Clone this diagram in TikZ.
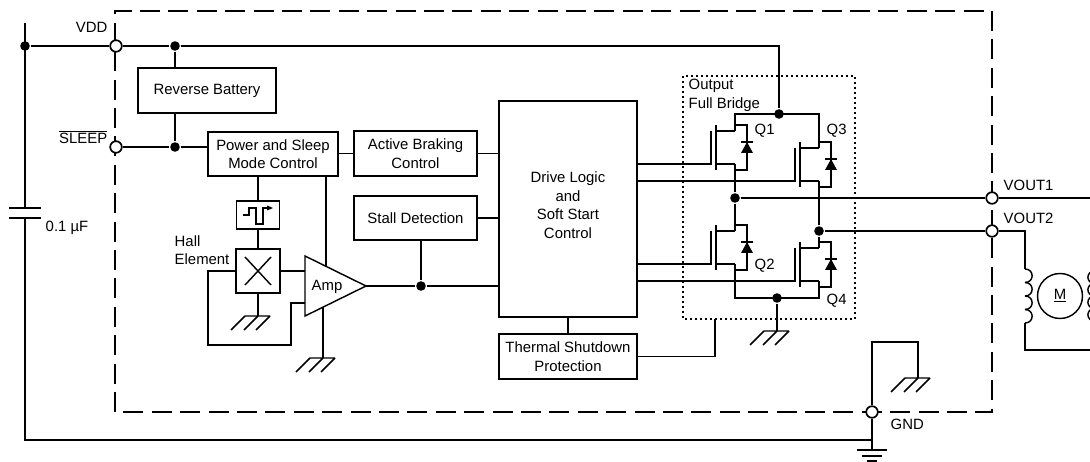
\documentclass[tikz,border=0pt]{standalone}
\usepackage{fontspec}
\setmainfont{Liberation Sans}
\usepackage{xcolor}
\usetikzlibrary{positioning}
\tikzset{
	wire/.style={line width=0.36mm},
	block/.style={draw, line width=0.36mm, inner sep=0pt, align=center, fill=white},
	term/.style={circle, draw, line width=0.42mm, fill=white, minimum size=2.9mm, inner sep=0pt},
	dot/.style={circle, fill=black, minimum size=2.4mm, inner sep=0pt},
	lbl/.style={inner sep=0pt, align=left},
}
\begin{document}
\begin{tikzpicture}[y=-0.25mm,x=0.25mm,wire,font=\fontsize{10.6}{13.2}\selectfont]
	\newcommand\Gnd{+(-13,0) -- +(12,0) +(-13,0) -- +(-27,14) +(0,0) -- +(-14,14) +(12,0) -- +(-2,14)}
	\newcommand\Fet{+(-24,0) -- +(-24,34) +(-19,-6) -- +(-19,39) +(-19,0) -- +(0,0) +(-19,33) -- +(0,33) +(0,-6) -- +(12,-6) -- +(12,39) -- +(0,39) +(6,11) -- +(18,11)}
	\newcommand\Tri{+(12,11) -- +(6,22) -- +(18,22) -- cycle}
	\path[use as bounding box,clip] (0,0) rectangle (1090,462);

	% package outline and the dotted bridge
	\draw [dash pattern=on 5mm off 2.1mm] (115,412) -- (115,11) -- (992,11) -- (992,412) -- (115,412);
	\draw [line width=0.42mm, dash pattern=on 0.4mm off 0.85mm] (683,76) rectangle (855,319);

	% terminals
	\node[term] (vdd) at (116,46) {};
	\node[term] (slp) at (116,147) {};
	\node[term] (vo1) at (992,198) {};
	\node[term] (vo2) at (992,231) {};
	\node[term] (gnd) at (872,412) {};

	% blocks
	\node[block, minimum width=34.5mm, minimum height=11.25mm] (rev) at (207,90.5) {Reverse Battery};
	\node[block, minimum width=32.5mm, minimum height=11mm] (pow) at (273,154) {Power and Sleep\\Mode Control};
	\node[block, minimum width=30.75mm, minimum height=11.25mm] (act) at (415.5,153.5) {Active Braking\\Control};
	\node[block, minimum width=30.75mm, minimum height=11mm] (stl) at (415.5,218) {Stall Detection};
	\node[block, minimum width=34.5mm, minimum height=54mm] (drv) at (568,209) {};
	\node[lbl, align=center] (drvt) at (568,205) {Drive Logic\\and\\Soft Start\\Control};
	\node[block, minimum width=34.5mm, minimum height=11.25mm] (thm) at (568,356.5) {Thermal Shutdown\\Protection};
	\node[block, minimum width=10.75mm, minimum height=7mm] (smt) at (258,215) {};
	\node[block, minimum width=11mm, minimum height=11mm] (hal) at (258,271) {};

	% junction dots
	\node[dot] (cap) at (25,46) {};
	\node[dot] (da) at (175,46) {};
	\node[dot] (db) at (175,147) {};
	\node[dot] (dc) at (421,286) {};
	\node[dot] (dt) at (779,114) {};
	\node[dot] (dm) at (735,198) {};
	\node[dot] (dr) at (819,231) {};
	\node[dot] (db2) at (777,298) {};

	% corner points
	\coordinate (q1) at (735,131);
	\coordinate (q3) at (819,148);
	\coordinate (q2) at (735,231);
	\coordinate (q4) at (819,248);
	\coordinate (g1) at (711,164);
	\coordinate (g3) at (794,181);
	\coordinate (g2) at (711,264);
	\coordinate (g4) at (794,281);
	\coordinate (s2) at (735,264);
	\coordinate (s4) at (819,281);
	\coordinate (s1) at (735,164);
	\coordinate (s3) at (819,181);
	\coordinate (ampa) at (305,256);
	\coordinate (ampb) at (305,316);
	\coordinate (ampc) at (366,286);
	\coordinate (gh) at (258,316);
	\coordinate (ga) at (323,358);
	\coordinate (gb) at (777,331);
	\coordinate (gc) at (918,378);
	\coordinate (gm) at (872,450);

	% power rail and inputs
	\draw (cap) -- (vdd);
	\draw (vdd) -- (da);
	\draw (da) -- (779,46) -- (dt);
	\draw (da) -- (da |- rev.north);
	\draw (db) -- (db |- rev.south);
	\draw (slp) -- (db);
	\draw (db) -- (db -| pow.west);
	\draw (25,23) -- (25,208);
	\draw (25,218) -- (25,440) -- (872,440);
	\draw (9,208) -- (41,208);
	\draw (9,218) -- (41,218);
	\draw (gnd) -- (gm);
	\draw (gm) ++(-15,0) -- ++(30,0);
	\draw (872,456) ++(-10,0) -- ++(20,0);
	\draw (872,461) ++(-5,0) -- ++(10,0);
	\draw (gnd) -- (872,342) -- (918,342) -- (gc);
	\draw (gc) \Gnd;

	% control blocks
	\draw (pow.east |- act) -- (act);
	\draw (act) -- (act -| drv.west);
	\draw (stl) -- (stl -| drv.west);
	\draw (dc) -- (dc |- stl.south);
	\draw (smt |- pow.south) -- (smt);
	\draw (smt) -- (hal);
	\draw (hal) -- (gh);
	\draw (gh) \Gnd;
	\draw (drv) -- (thm);
	\draw (thm) -- (715,356.5) -- (715,319);

	% hall element and amp
	\draw (245,257) -- (271,285) (271,257) -- (245,285);
	\draw (hal.east) -- (ampa |- hal.east);
	\draw (hal.west) -- (208,271) -- (208,345) -- (291,345) -- (291,303) -- (305,303);
	\draw (326,176) -- (326,266);
	\draw (323,307) -- (ga);
	\draw (ga) \Gnd;
	\draw[fill=white] (ampa) -- (ampc) -- (ampb) -- cycle;
	\node[lbl] (amp) at (327,287) {Amp};
	\draw (ampc) -- (dc);
	\draw (dc) -- (dc -| drv.west);
	\draw (243,215) -- (249,215) -- (249,208) -- (256,208) -- (256,224) -- (263,224) -- (263,208) -- (268,208);
	\fill (267,205.5) -- (273,208) -- (267,210.5) -- cycle;

	% full bridge
	\draw (q1) \Fet;
	\draw (q3) \Fet;
	\draw (q2) \Fet;
	\draw (q4) \Fet;
	\fill (q1) \Tri;
	\fill (q3) \Tri;
	\fill (q2) \Tri;
	\fill (q4) \Tri;
	\draw (q1) -- (735,114) -- (819,114) -- (q3);
	\draw (s1) -- (dm);
	\draw (dm) -- (q2);
	\draw (s3) -- (dr);
	\draw (dr) -- (q4);
	\draw (s2) -- (735,298) -- (819,298) -- (s4);
	\draw (db2) -- (gb);
	\draw (gb) \Gnd;
	\draw (g1 -| drv.east) -- (g1);
	\draw (g3 -| drv.east) -- (g3);
	\draw (g2 -| drv.east) -- (g2);
	\draw (g4 -| drv.east) -- (g4);

	% outputs and motor
	\draw (dm) -- (vo1);
	\draw (vo1) -- (1090,198);
	\draw (dr) -- (vo2);
	\draw (vo2) -- (1025,231) -- (1025,269);
	\foreach \cy in {269,282.5,296,309.5}
		\draw (1025,\cy) .. controls +(9.5,0) and +(9.5,0) .. +(0,13.5);
	\draw (1025,323) -- (1025,350) -- (1090,350);
	\node[circle, draw, minimum size=11.25mm, inner sep=0pt] (mot) at (1060,296) {\underline{M}};
	\foreach \cy in {271,283.5,296,308.5}
		\draw (1095,\cy) .. controls +(-9.5,0) and +(-9.5,0) .. +(0,12.5);

	% labels
	\node[lbl, anchor=east] (lvdd) at (108,27) {VDD};
	\node[lbl, anchor=east] (lslp) at (108,137) {$\overline{\mbox{SLEEP}}$};
	\node[lbl, anchor=west] (lcap) at (45,228) {0.1 µF};
	\node[lbl, anchor=west] (lhal) at (174,250) {Hall\\Element};
	\node[lbl, anchor=west] (lbrg) at (688,95.5) {Output\\Full Bridge};
	\node[lbl, anchor=west] (lq1) at (754,131) {Q1};
	\node[lbl, anchor=west] (lq3) at (826,131) {Q3};
	\node[lbl, anchor=west] (lq2) at (754,266) {Q2};
	\node[lbl, anchor=west] (lq4) at (826,301) {Q4};
	\node[lbl, anchor=west] (lvo1) at (1003,185) {VOUT1};
	\node[lbl, anchor=west] (lvo2) at (1003,218) {VOUT2};
	\node[lbl, anchor=west] (lgnd) at (890,424) {GND};
\end{tikzpicture}
\end{document}
